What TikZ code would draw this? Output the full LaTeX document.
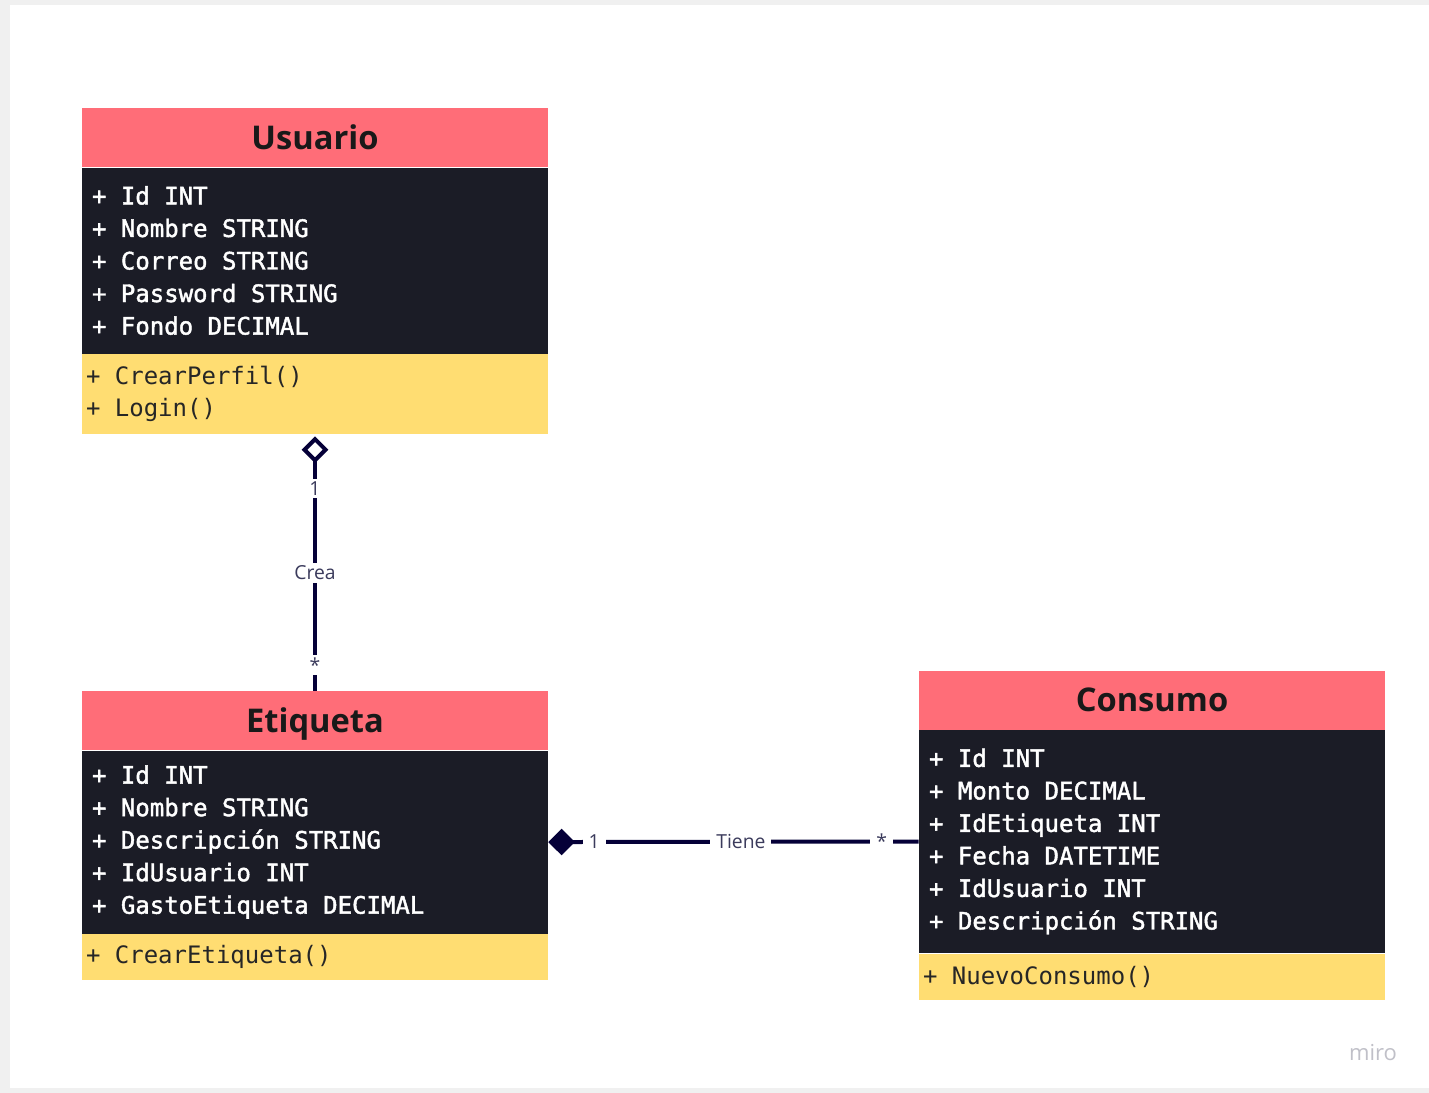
\documentclass[tikz,border=0pt]{standalone}
\usepackage{fontspec}
\setmainfont{Open Sans}
\setmonofont{DejaVu Sans Mono}
\newfontface\attrfont[FakeBold=1.8]{DejaVu Sans Mono}
\usetikzlibrary{positioning, arrows.meta}
\definecolor{fillHead}{HTML}{FF6D78}
\definecolor{fillBody}{HTML}{1B1C26}
\definecolor{fillMethod}{HTML}{FFDD72}
\definecolor{lineDark}{HTML}{050038}
\definecolor{labelText}{HTML}{3B3B5C}
\definecolor{frameGray}{HTML}{F0F0F0}
\definecolor{miroGray}{HTML}{C0C0C8}

\begin{document}
\begin{tikzpicture}[
    x=0.75pt, y=-0.75pt,
    headstyle/.style={rectangle, fill=fillHead, minimum width=349.5pt, minimum height=44.25pt, inner sep=0pt, text depth=0pt, text=black!90, font=\fontsize{24.5}{28}\selectfont\bfseries},
    attrstyle/.style={rectangle, fill=fillBody, text=white, text width=334.5pt, inner xsep=7.5pt, inner ysep=0pt, align=flush left, font=\fontsize{18}{24.4}\selectfont\attrfont},
    methstyle/.style={rectangle, fill=fillMethod, text=black!85, text width=343.5pt, inner xsep=3pt, inner ysep=0pt, align=flush left, font=\fontsize{18}{24.4}\selectfont\ttfamily},
    myline/.style={line width=3pt, draw=lineDark},
    mylabel/.style={fill=white, text=labelText, inner xsep=4.5pt, inner ysep=2pt, font=\fontsize{14.5}{17}\selectfont}
]

    % ==========================================
    % 0. CANVAS
    % ==========================================
    \useasboundingbox (0,0) rectangle (1429,1093);
    \fill[frameGray] (0,0) rectangle (1429,1093);
    \fill[white] (10,5) rectangle (1429,1088);

    % ==========================================
    % 1. USUARIO (Top Left)
    % ==========================================
    \node[headstyle] (usuHead) at (315, 137.5) {Usuario};
    \node[attrstyle, minimum height=139.5pt, below=0pt of usuHead] (usuAttr) {
        + Id INT\\
        + Nombre STRING\\
        + Correo STRING\\
        + Password STRING\\
        + Fondo DECIMAL
    };
    \node[methstyle, minimum height=60pt, below=0pt of usuAttr] (usuMeth) {
        + CrearPerfil()\\
        + Login()
    };

    % ==========================================
    % 2. ETIQUETA (Bottom Left)
    % ==========================================
    \node[headstyle] (etqHead) at (315, 720.5) {Etiqueta};
    \node[attrstyle, minimum height=137.25pt, below=0pt of etqHead] (etqAttr) {
        + Id INT\\
        + Nombre STRING\\
        + Descripción STRING\\
        + IdUsuario INT\\
        + GastoEtiqueta DECIMAL
    };
    \node[methstyle, minimum height=34.5pt, below=0pt of etqAttr] (etqMeth) {
        + CrearEtiqueta()
    };

    % ==========================================
    % 3. CONSUMO (Bottom Right)
    % ==========================================
    \node[headstyle] (conHead) at (1152, 700) {Consumo};
    \node[attrstyle, minimum height=167.25pt, below=0pt of conHead] (conAttr) {
        + Id INT\\
        + Monto DECIMAL\\
        + IdEtiqueta INT\\
        + Fecha DATETIME\\
        + IdUsuario INT\\
        + Descripción STRING
    };
    \node[methstyle, minimum height=34.5pt, below=0pt of conAttr] (conMeth) {
        + NuevoConsumo()
    };

    % ==========================================
    % 4. CONNECTORS
    % ==========================================
    % Usuario (aggregation) -> Etiqueta
    \draw[myline, {Diamond[fill=white, length=20pt, width=20pt]}-, shorten <=1.5pt] (usuMeth.south) -- (etqHead.north)
        node[mylabel, pos=0.21] {1}
        node[mylabel, pos=0.54] {Crea}
        node[mylabel, pos=0.90] {*};

    % Etiqueta (composition) -> Consumo
    \draw[myline, {Diamond[length=20pt, width=20pt]}-] (etqAttr.east) -- (conAttr.west)
        node[mylabel, pos=0.124] {1}
        node[mylabel, pos=0.52] {Tiene}
        node[mylabel, pos=0.90] {*};

    % watermark
    \node[text=miroGray, font=\fontsize{16.5}{19}\selectfont] (miro) at (1373, 1053) {miro};

\end{tikzpicture}
\end{document}
